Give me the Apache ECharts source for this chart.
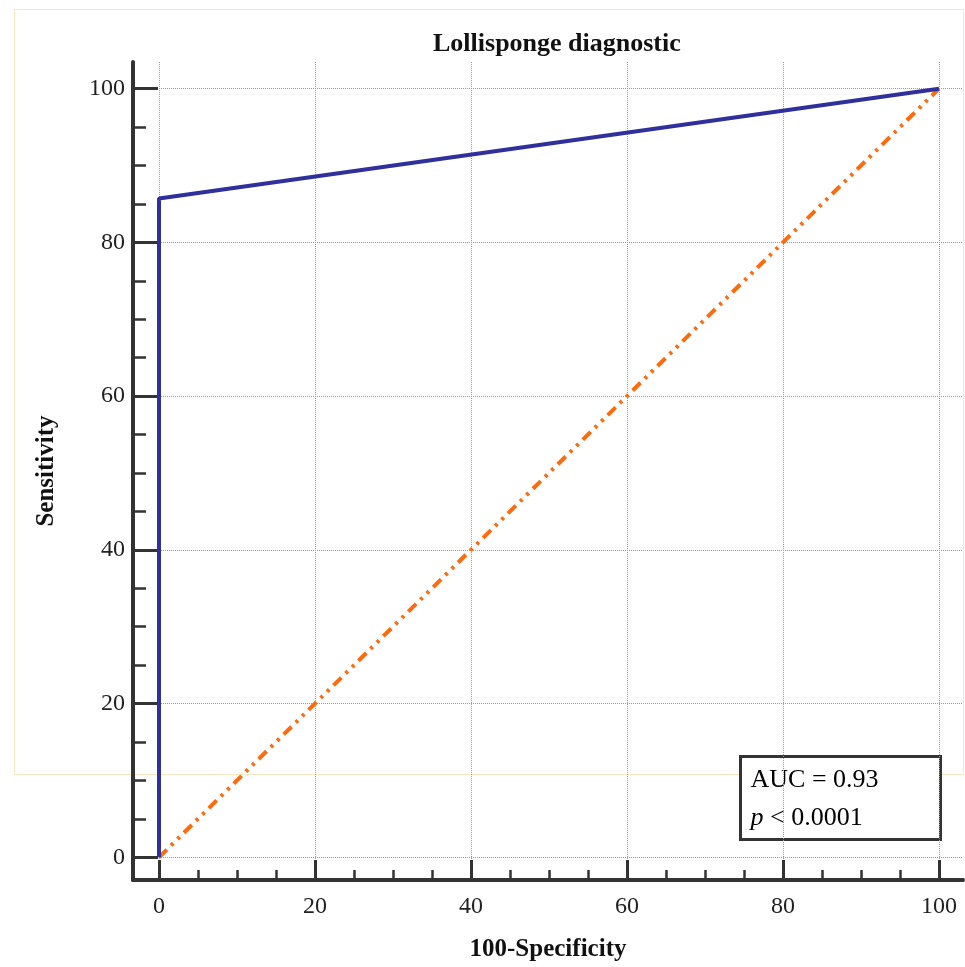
<!DOCTYPE html>
<html>
<head>
<meta charset="utf-8">
<script src="https://cdn.jsdelivr.net/npm/echarts@6/dist/echarts.min.js"></script>
<style>
  html, body { margin: 0; padding: 0; background: #fff; }
  #chart { width: 965px; height: 967px; }
</style>
</head>
<body>
<div id="chart"></div>
<script>
// ROC curve points (100-Specificity, Sensitivity)
const rocX = [0, 0, 100];
const rocY = [0, 85.7, 100];
// reference diagonal
const diagX = [0, 100];
const diagY = [0, 100];
// tick values
const majorTicks = [0, 20, 40, 60, 80, 100];
const minorTicks = [5, 10, 15, 25, 30, 35, 45, 50, 55, 65, 70, 75, 85, 90, 95];
const titleText = 'Lollisponge diagnostic';
const statLines = ['AUC = 0.93', ' < 0.0001'];

const serif = '"Liberation Serif", "DejaVu Serif", serif';
const axisColor = '#333';

// axis extents so the axis lines sit outside the data box, like the original
const xMin = -3.333, xMax = 103.08;
const yMin = -2.956, yMax = 103.47;

const chart = echarts.init(document.getElementById('chart'));

function axisBase(extra) {
    return Object.assign({
        type: 'value',
        axisLine: { show: true, onZero: false, lineStyle: { color: axisColor, width: 4 } },
        splitLine: { show: true, lineStyle: { color: '#9a9a9a', type: 'dotted', width: 1 } }
    }, extra);
}

function minorAxis(extra) {
    return Object.assign({
        type: 'value',
        axisLine: { show: false, onZero: false },
        axisLabel: { show: false },
        splitLine: { show: false }
    }, extra);
}

const labelStyle = { color: '#222', fontFamily: serif, fontSize: 24 };
const nameStyle = { fontFamily: serif, fontSize: 25, fontWeight: 'bold', color: '#111' };

const option = {
    backgroundColor: '#fff',
    animation: false,
    title: {
        text: titleText,
        left: 428,
        top: 26,
        textStyle: { fontFamily: serif, fontSize: 26, fontWeight: 'bold', color: '#111' }
    },
    grid: { left: 133, right: 2, top: 62, bottom: 77, containLabel: false },
    xAxis: [
        axisBase({
            min: xMin, max: xMax, position: 'bottom',
            axisTick: {
                show: true, inside: true, customValues: majorTicks, length: 20,
                lineStyle: { color: axisColor, width: 3 }
            },
            axisLabel: Object.assign({ customValues: majorTicks, margin: 15 }, labelStyle),
            name: '100-Specificity', nameLocation: 'middle', nameGap: 57,
            nameTextStyle: nameStyle
        }),
        minorAxis({
            min: xMin, max: xMax, position: 'bottom',
            axisTick: {
                show: true, inside: true, customValues: minorTicks, length: 10,
                lineStyle: { color: axisColor, width: 2.5 }
            }
        })
    ],
    yAxis: [
        axisBase({
            min: yMin, max: yMax, position: 'left',
            axisTick: {
                show: true, inside: true, customValues: majorTicks, length: 25,
                lineStyle: { color: axisColor, width: 3 }
            },
            axisLabel: Object.assign({ customValues: majorTicks, margin: 8 }, labelStyle),
            name: 'Sensitivity', nameLocation: 'middle', nameGap: 74, nameRotate: 90,
            nameTextStyle: nameStyle
        }),
        minorAxis({
            min: yMin, max: yMax, position: 'left',
            axisTick: {
                show: true, inside: true, customValues: minorTicks, length: 13,
                lineStyle: { color: axisColor, width: 2.5 }
            }
        })
    ],
    series: [
        {
            type: 'line',
            xAxisIndex: 0, yAxisIndex: 0,
            data: rocX.map((x, i) => [x, rocY[i]]),
            showSymbol: false,
            lineStyle: { color: '#30309c', width: 4 },
            z: 3
        },
        {
            type: 'line',
            xAxisIndex: 0, yAxisIndex: 0,
            data: diagX.map((x, i) => [x, diagY[i]]),
            showSymbol: false,
            lineStyle: { color: '#ff6a0d', width: 4, type: [11, 6, 3, 6, 3, 6] },
            z: 2
        }
    ],
    graphic: [
        {
            type: 'rect',
            z: -10,
            shape: { x: 14.5, y: 9.5, width: 949, height: 765 },
            style: { fill: 'none', stroke: '#fbe6c2', lineWidth: 1 },
            silent: true
        },
        {
            type: 'group',
            left: 739,
            top: 755,
            z: 100,
            children: [
                {
                    type: 'rect',
                    shape: { x: 0, y: 0, width: 200, height: 83 },
                    style: { fill: '#fff', stroke: '#333', lineWidth: 3 }
                },
                {
                    type: 'text',
                    x: 10,
                    y: 5,
                    style: {
                        text: '{n|' + statLines[0] + '}\n{i|p}{n|' + statLines[1] + '}',
                        rich: {
                            n: { fontFamily: serif, fontSize: 26, color: '#222', lineHeight: 38 },
                            i: { fontFamily: serif, fontSize: 26, fontStyle: 'italic', color: '#222', lineHeight: 38 }
                        }
                    }
                }
            ]
        }
    ]
};

chart.setOption(option);
</script>
</body>
</html>
